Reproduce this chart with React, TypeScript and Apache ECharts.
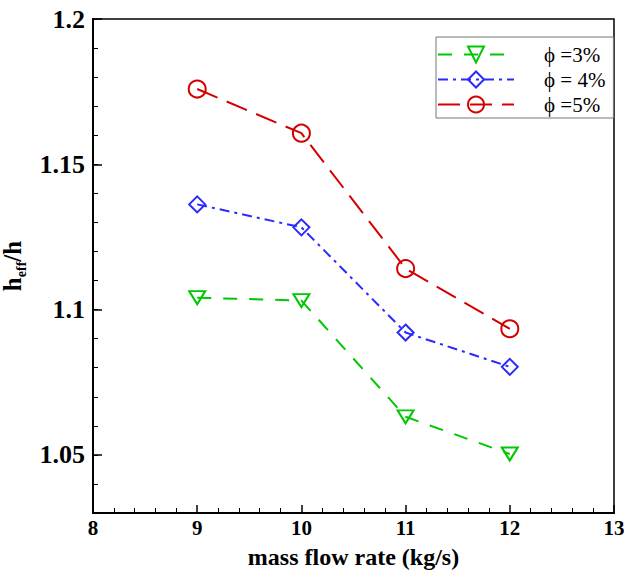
import React, { useEffect, useRef } from "react";
import * as echarts from "echarts";

const massFlow = [9, 10, 11, 12];
const phi3 = [1.1041, 1.1031, 1.0631, 1.0503];
const phi4 = [1.1362, 1.1283, 1.0921, 1.0803];
const phi5 = [1.1759, 1.1607, 1.1141, 1.0934];
const yMajorTicks = [1.05, 1.1, 1.15, 1.2];
const seriesNames = ["ϕ =3%", "ϕ = 4%", "ϕ =5%"];
const xAxisTitle = "mass flow rate (kg/s)";

const FONT = "Liberation Serif";

export default function App() {
  const ref = useRef<HTMLDivElement>(null);
  useEffect(() => {
    if (!ref.current) return;
    const chart = echarts.init(ref.current, null, { renderer: "svg" });
    const pairs = (ys: number[]) => massFlow.map((x, i) => [x, ys[i]]);
    const green = "#00c800";
    const blue = "#2a2aff";
    const red = "#d40000";
    const mk = (name: string, ys: number[], color: string, symbol: string, size: any, dash: number[], rotate = 0) => ({
      name,
      type: "line",
      data: pairs(ys),
      symbol,
      symbolSize: size,
      symbolRotate: rotate,
      showSymbol: true,
      lineStyle: { color, width: 2, type: dash },
      itemStyle: { color: "rgba(255,255,255,0)", borderColor: color, borderWidth: 2 },
      emphasis: { disabled: true },
      z: 3,
    });
    chart.setOption({
      animation: false,
      backgroundColor: "#fff",
      textStyle: { fontFamily: FONT },
      grid: {
        left: 93,
        right: 10,
        top: 19,
        bottom: 61,
        containLabel: false,
        outerBoundsMode: "none",
        show: true,
        borderColor: "#000",
        borderWidth: 1.5,
        backgroundColor: "transparent",
      },
      legend: {
        orient: "vertical",
        left: 436,
        top: 37,
        padding: [7, 8, 3, 1],
        itemWidth: 76,
        itemHeight: 20,
        itemGap: 4,
        borderColor: "#777",
        borderWidth: 1,
        backgroundColor: "#fff",
        textStyle: { fontFamily: FONT, fontSize: 21, color: "#000", padding: [0, 0, 0, 25] },
        data: seriesNames,
      },
      xAxis: {
        type: "value",
        min: 8,
        max: 13,
        interval: 1,
        name: xAxisTitle,
        nameLocation: "middle",
        nameGap: 32,
        nameTextStyle: { fontFamily: FONT, fontSize: 24, fontWeight: "bold", color: "#000" },
        axisLine: { show: true, lineStyle: { color: "#000", width: 2 } },
        axisTick: { show: true, inside: true, length: 8, lineStyle: { color: "#000", width: 1.5 } },
        minorTick: { show: true, splitNumber: 5, length: 5, lineStyle: { color: "#000", width: 1 } },
        axisLabel: { fontFamily: FONT, fontSize: 21, fontWeight: "bold", color: "#000", margin: 4 },
        splitLine: { show: false },
      },
      yAxis: [
        {
          type: "value",
          min: 1.03,
          max: 1.2,
          interval: 0.01,
          position: "left",
          name: "{a|h}{b|eff}{a|/h}",
          nameLocation: "middle",
          nameGap: 56,
          nameRotate: 90,
          nameTextStyle: {
            fontFamily: FONT,
            fontWeight: "bold",
            color: "#000",
            rich: {
              a: { fontFamily: FONT, fontSize: 25, fontWeight: "bold", color: "#000", lineHeight: 28, verticalAlign: "bottom" },
              b: { fontFamily: FONT, fontSize: 14, fontWeight: "bold", color: "#000", lineHeight: 14, verticalAlign: "bottom", padding: [0, 0, -4, 0] },
            },
          },
          axisLine: { show: true, lineStyle: { color: "#000", width: 2 } },
          axisTick: { show: true, inside: true, length: 5, lineStyle: { color: "#000", width: 1 } },
          axisLabel: {
            customValues: yMajorTicks,
            fontFamily: FONT,
            fontSize: 26,
            fontWeight: "bold",
            color: "#000",
            margin: 8,
            formatter: (v: number) => String(+v.toFixed(2)),
          },
          splitLine: { show: false },
        },
        {
          type: "value",
          min: 1.03,
          max: 1.2,
          interval: 0.01,
          position: "left",
          axisLine: { show: false },
          axisTick: { show: true, inside: true, length: 9, customValues: yMajorTicks, lineStyle: { color: "#000", width: 1.5 } },
          axisLabel: { show: false },
          splitLine: { show: false },
        },
      ],
      series: [
        mk(seriesNames[0], phi3, green, "triangle", [16, 13], [14, 12], 180),
        mk(seriesNames[1], phi4, blue, "diamond", 16, [10, 5, 3, 5]),
        mk(seriesNames[2], phi5, red, "circle", 17, [22, 10]),
      ],
    });
    return () => chart.dispose();
  }, []);
  return <div ref={ref} style={{ position: "fixed", left: 0, top: 0, width: 624, height: 574 }} />;
}
